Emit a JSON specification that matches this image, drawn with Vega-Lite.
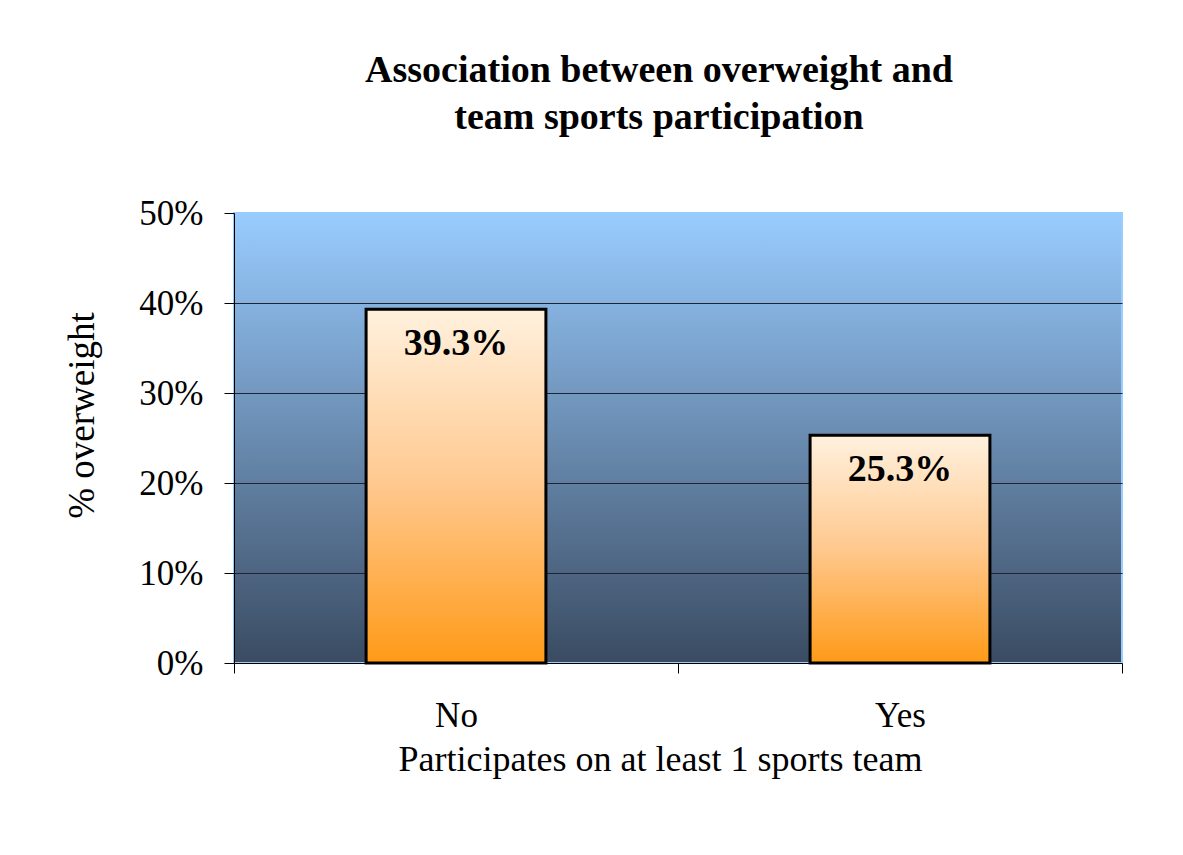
{
  "$schema": "https://vega.github.io/schema/vega-lite/v6.json",
  "width": 888,
  "height": 450,
  "autosize": {"type": "none"},
  "padding": {"left": 234, "top": 213, "right": 61, "bottom": 192},
  "background": "white",
  "title": {
    "text": ["Association between overweight and", "team sports participation"],
    "font": "Liberation Serif",
    "fontSize": 38,
    "fontWeight": "bold",
    "color": "black",
    "lineHeight": 47,
    "anchor": "middle",
    "dx": -19,
    "offset": 59
  },
  "data": {
    "values": [
      {"team": "No", "pct": 0.393, "label": "39.3%"},
      {"team": "Yes", "pct": 0.253, "label": "25.3%"}
    ]
  },
  "encoding": {
    "x": {
      "field": "team",
      "type": "nominal",
      "scale": {"paddingInner": 0, "paddingOuter": 0},
      "axis": {
        "title": "Participates on at least 1 sports team",
        "labelAngle": 0,
        "tickBand": "extent",
        "tickSize": 10,
        "tickColor": "black",
        "domainColor": "black",
        "domainWidth": 1,
        "grid": false,
        "labelFont": "Liberation Serif",
        "labelFontSize": 35,
        "labelColor": "black",
        "labelBaseline": "alphabetic",
        "labelPadding": 53,
        "titleFont": "Liberation Serif",
        "titleFontSize": 36,
        "titleFontWeight": "normal",
        "titleColor": "black",
        "titleX": 426,
        "titleY": 107,
        "titleBaseline": "alphabetic"
      }
    },
    "y": {
      "field": "pct",
      "type": "quantitative",
      "scale": {"domain": [0, 0.5], "nice": false},
      "axis": {
        "title": "% overweight",
        "format": ".0%",
        "values": [0, 0.1, 0.2, 0.3, 0.4, 0.5],
        "domainColor": "black",
        "tickColor": "black",
        "tickSize": 10,
        "labelFont": "Liberation Serif",
        "labelFontSize": 35,
        "labelColor": "black",
        "labelPadding": 21,
        "gridColor": "#222233",
        "gridWidth": 1,
        "gridOpacity": {"condition": {"test": "datum.value <= 0 || datum.value >= 0.5", "value": 0}, "value": 1},
        "titleFont": "Liberation Serif",
        "titleFontSize": 37,
        "titleFontWeight": "normal",
        "titleColor": "black",
        "titleX": -141,
        "titleY": 202,
        "titleBaseline": "alphabetic",
        "titleAlign": "center"
      }
    }
  },
  "layer": [
    {
      "mark": {
        "type": "bar",
        "width": {"band": 0.405},
        "fill": {
          "gradient": "linear",
          "x1": 0, "y1": 0, "x2": 0, "y2": 1,
          "stops": [
            {"offset": 0, "color": "#FFF1DE"},
            {"offset": 0.5, "color": "#FFC88E"},
            {"offset": 1, "color": "#FF9A17"}
          ]
        },
        "stroke": "black",
        "strokeWidth": 3
      }
    },
    {
      "mark": {
        "type": "text",
        "font": "Liberation Serif",
        "fontSize": 38,
        "fontWeight": "bold",
        "color": "black",
        "baseline": "alphabetic",
        "dy": 46
      },
      "encoding": {"text": {"field": "label"}}
    }
  ],
  "config": {
    "view": {
      "fill": {
        "gradient": "linear",
        "x1": 0, "y1": 0, "x2": 0, "y2": 1,
        "stops": [
          {"offset": 0, "color": "#99CCFF"},
          {"offset": 1, "color": "#3A4B62"}
        ]
      },
      "stroke": "#99CCFF",
      "strokeWidth": 2
    }
  }
}
